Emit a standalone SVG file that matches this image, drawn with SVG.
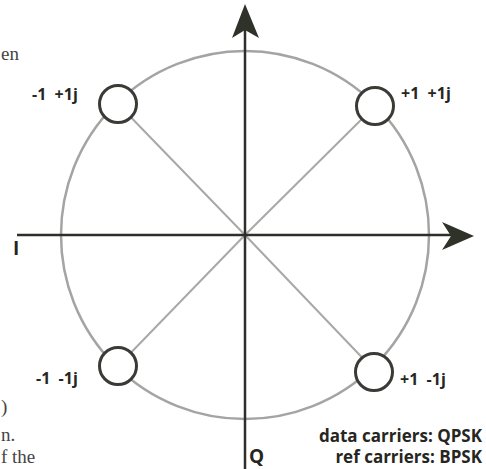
<svg xmlns="http://www.w3.org/2000/svg" width="486" height="469" viewBox="0 0 486 469">
<style>
.lbl{font-family:"Open Sans","Noto Sans","Liberation Sans",sans-serif;font-weight:bold;font-size:16px;fill:#26261f;white-space:pre}
.leg{font-family:"Open Sans","Noto Sans","Liberation Sans",sans-serif;font-weight:bold;font-size:17px;fill:#26261f}
.ax{font-family:"Open Sans","Noto Sans","Liberation Sans",sans-serif;font-weight:bold;font-size:19px;fill:#26261f}
.pg{font-family:"Liberation Serif","DejaVu Serif",serif;font-size:19px;fill:#444}
.diag{stroke:#a8a8a8;stroke-width:2;fill:none}
.axis{stroke:#2e2e2a;stroke-width:2.5;fill:none}
.pt{fill:#fff;stroke:#3a3a36;stroke-width:3}
.head{fill:#2e3228}
</style>
<rect width="486" height="469" fill="#fff"/>
<g id="page-text">
<text class="pg" x="1" y="60">en</text>
<text class="pg" x="1" y="413">)</text>
<text class="pg" x="1" y="441">n.</text>
<text class="pg" x="1" y="463">f the</text>
</g>
<circle id="unit-circle" cx="245" cy="235" r="184" fill="none" stroke="#a4a4a4" stroke-width="2.5"/>
<g id="connectors">
<line class="diag" x1="245" y1="235" x2="118" y2="104"/>
<line class="diag" x1="245" y1="235" x2="375" y2="106"/>
<line class="diag" x1="245" y1="235" x2="118" y2="366"/>
<line class="diag" x1="245" y1="235" x2="374" y2="370"/>
<line class="axis" x1="17" y1="235" x2="452" y2="235"/>
<polygon class="head" points="474,236 442,222 451,236 442,250"/>
<line class="axis" x1="245" y1="30" x2="245" y2="469"/>
<polygon class="head" points="245,4 232,38 245,30 259,38"/>
</g>
<g id="axis-I"><text class="ax" x="13" y="255">I</text></g>
<g id="axis-Q"><text class="ax" x="249" y="463">Q</text></g>
<g id="pt-m1p1j">
<circle class="pt" cx="118" cy="104" r="18.5"/>
<text class="lbl" x="32" y="100" xml:space="preserve">-1  +1j</text>
</g>
<g id="pt-p1p1j">
<circle class="pt" cx="375" cy="106" r="18.5"/>
<text class="lbl" x="401" y="99" xml:space="preserve">+1  +1j</text>
</g>
<g id="pt-m1m1j">
<circle class="pt" cx="118" cy="366" r="18.5"/>
<text class="lbl" x="36" y="384" xml:space="preserve">-1  -1j</text>
</g>
<g id="pt-p1m1j">
<circle class="pt" cx="374" cy="372" r="18.5"/>
<text class="lbl" x="400" y="385" xml:space="preserve">+1  -1j</text>
</g>
<g id="legend">
<text class="leg" x="482" y="442" text-anchor="end">data carriers: QPSK</text>
<text class="leg" x="482" y="463" text-anchor="end">ref carriers: BPSK</text>
</g>
</svg>
